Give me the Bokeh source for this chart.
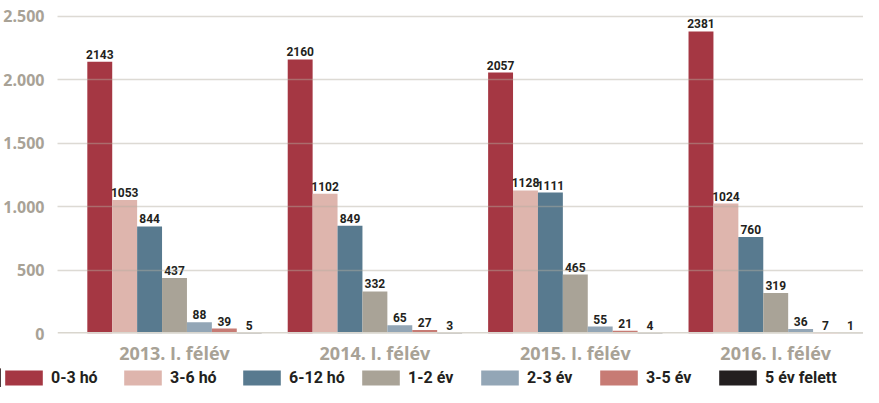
from bokeh.plotting import figure
from bokeh.layouts import column
from bokeh.models import Range1d, FixedTicker, Legend, LegendItem, Span, ColumnDataSource
from bokeh.transform import dodge
from bokeh.core.properties import value
from bokeh.embed import file_html
from bokeh.resources import INLINE

periods = ["2013. I. félév", "2014. I. félév", "2015. I. félév", "2016. I. félév"]
series = ["0-3 hó", "3-6 hó", "6-12 hó", "1-2 év", "2-3 év", "3-5 év", "5 év felett"]
v_0_3 = [2143, 2160, 2057, 2381]
v_3_6 = [1053, 1102, 1128, 1024]
v_6_12 = [844, 849, 1111, 760]
v_1_2 = [437, 332, 465, 319]
v_2_3 = [88, 65, 55, 36]
v_3_5 = [39, 27, 21, 7]
v_5p = [5, 3, 4, 1]
colors = ["#a53743", "#deb5ad", "#587a8f", "#a9a397", "#93a6b6", "#c77b74", "#231f20"]
y_ticks = [0, 500, 1000, 1500, 2000, 2500]
y_tick_labels = ["0", "500", "1.000", "1.500", "2.000", "2.500"]

values = [v_0_3, v_3_6, v_6_12, v_1_2, v_2_3, v_3_5, v_5p]
group_pos = list(range(len(periods)))
bw = 0.1243
FONT = "Roboto"

p = figure(width=863, height=368, output_backend="svg", toolbar_location=None,
           x_range=Range1d(-0.5838, 3.438), y_range=Range1d(0, 2546),
           min_border_left=57, min_border_right=0, min_border_top=10, min_border_bottom=35)
p.frame_align = False
p.outline_line_color = None
p.background_fill_color = "white"
p.border_fill_color = "white"

p.xgrid.grid_line_color = None
p.ygrid.ticker = FixedTicker(ticks=y_ticks)
p.ygrid.grid_line_color = "#b3ad9f"
p.ygrid.grid_line_alpha = 0.45
p.ygrid.grid_line_width = 1.5
p.ygrid.level = "overlay"

# legend strip (separate figure so the legend can start at the left edge)
p2 = figure(width=863, height=19, output_backend="svg", toolbar_location=None,
            x_range=Range1d(10, 11), y_range=Range1d(0, 1),
            x_axis_location=None, y_axis_location=None,
            min_border_left=0, min_border_right=0, min_border_top=0, min_border_bottom=0)
p2.frame_align = False
p2.outline_line_color = None
p2.border_fill_color = "white"
p2.grid.visible = False

legend_renderers = []
for k, (name, vals, col) in enumerate(zip(series, values, colors)):
    src = ColumnDataSource(dict(g=group_pos, v=vals, t=[str(x) for x in vals]))
    off = (k - 3) * bw
    p.vbar(x=dodge("g", off), top="v", width=bw, source=src,
           fill_color=col, line_color=None)
    p.text(x=dodge("g", off), y="v", text="t", source=src,
           text_align="center", text_baseline="bottom", y_offset=-3,
           text_font=value(FONT), text_font_style="bold",
           text_font_size="12px", text_color="#231f20")
    lr = p2.vbar(x="g", top="v", width=bw, source=src, fill_color=col, line_color=None)
    legend_renderers.append(lr)

p.add_layout(Span(location=0, dimension="width", line_color="#d9d6ce", line_width=3))

p.xaxis.ticker = FixedTicker(ticks=group_pos)
p.xaxis.major_label_overrides = {i: t for i, t in zip(group_pos, periods)}
p.yaxis.ticker = FixedTicker(ticks=y_ticks)
p.yaxis.major_label_overrides = {t: l for t, l in zip(y_ticks, y_tick_labels)}
for ax in (p.xaxis, p.yaxis):
    ax.axis_line_color = None
    ax.major_tick_line_color = None
    ax.minor_tick_line_color = None
    ax.major_label_text_font = "Open Sans"
    ax.major_label_text_font_style = "bold"
    ax.major_label_text_color = "#a8a296"
p.xaxis.major_label_text_font_size = "18px"
p.yaxis.major_label_text_font_size = "16px"
p.xaxis.major_label_standoff = 1
p.yaxis.major_label_standoff = 7

legend = Legend(items=[LegendItem(label=s, renderers=[r]) for s, r in zip(series, legend_renderers)],
                orientation="horizontal", location=(0, 0),
                glyph_width=47, glyph_height=19, label_standoff=4, label_width=68,
                label_height=19, spacing=0, padding=0, margin=0, border_line_color=None,
                background_fill_alpha=0,
                label_text_font=FONT, label_text_font_style="bold",
                label_text_font_size="16px", label_text_color="#231f20")
p2.add_layout(legend)

layout = column(p, p2, spacing=0)
open("out.html", "w").write(file_html(layout, INLINE))
